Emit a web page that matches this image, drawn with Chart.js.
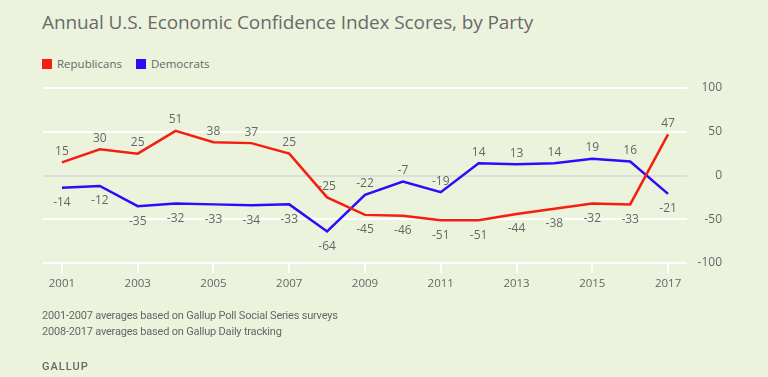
<!DOCTYPE html>
<html>
<head>
<meta charset="utf-8">
<script src="https://cdn.jsdelivr.net/npm/chart.js@4"></script>
<style>
  html, body { margin: 0; padding: 0; background: #ecf3dd; }
  #wrap { position: relative; width: 768px; height: 377px; overflow: hidden; font-family: "Open Sans", sans-serif; color: #666; }
  #chart { position: absolute; left: 0; top: 0; }
  .title { position: absolute; left: 42px; top: 9px; font-size: 19px; color: #6a6a6a; white-space: nowrap; letter-spacing: -0.1px; }
  .legend { position: absolute; left: 42px; top: 56px; font-size: 11.5px; color: #666; white-space: nowrap; }
  .legend span.sw { display: inline-block; width: 10px; height: 10px; vertical-align: -1px; margin-right: 5px; }
  .legend span.item { margin-right: 11px; }
  .note { position: absolute; left: 42px; font-family: Roboto, sans-serif; font-size: 11px; color: #666; white-space: nowrap; letter-spacing: -0.2px; }
  .brand { position: absolute; left: 42px; top: 360px; font-family: Roboto, sans-serif; font-size: 11px; font-weight: 500; letter-spacing: 1px; color: #666; }
</style>
</head>
<body>
<div id="wrap">
  <div class="title">Annual U.S. Economic Confidence Index Scores, by Party</div>
  <div class="legend">
    <span class="item"><span class="sw" style="background:#f51e0f"></span>Republicans</span>
    <span class="item"><span class="sw" style="background:#2c0cfa"></span>Democrats</span>
  </div>
  <canvas id="chart" width="768" height="377"></canvas>
  <div class="note" style="top:309px">2001-2007 averages based on Gallup Poll Social Series surveys</div>
  <div class="note" style="top:325px">2008-2017 averages based on Gallup Daily tracking</div>
  <div class="brand">GALLUP</div>
</div>
<script>
const years = ['2001','2002','2003','2004','2005','2006','2007','2008','2009','2010','2011','2012','2013','2014','2015','2016','2017'];
const republicans = [15, 30, 25, 51, 38, 37, 25, -25, -45, -46, -51, -51, -44, -38, -32, -33, 47];
const democrats = [-14, -12, -35, -32, -33, -34, -33, -64, -22, -7, -19, 14, 13, 14, 19, 16, -21];
// where each value label sits: 'a' above the point, 'b' below
const repLabelPos = ['a','a','a','a','a','a','a','a','b','b','b','b','b','b','b','b','a'];
const demLabelPos = ['b','b','b','b','b','b','b','b','a','a','a','a','a','a','a','a','b'];

const valueLabels = {
  id: 'valueLabels',
  afterDatasetsDraw(chart) {
    const ctx = chart.ctx;
    ctx.save();
    ctx.font = '12px "Open Sans", sans-serif';
    ctx.fillStyle = '#666';
    ctx.textAlign = 'center';
    chart.data.datasets.forEach((ds, i) => {
      const meta = chart.getDatasetMeta(i);
      meta.data.forEach((pt, j) => {
        if (ds.labelPos[j] === 'a') {
          ctx.textBaseline = 'bottom';
          ctx.fillText(ds.data[j], pt.x, pt.y - 5);
        } else {
          ctx.textBaseline = 'top';
          ctx.fillText(ds.data[j], pt.x, pt.y + 9);
        }
      });
    });
    ctx.restore();
  }
};

new Chart(document.getElementById('chart'), {
  type: 'line',
  data: {
    labels: years,
    datasets: [
      { label: 'Republicans', data: republicans, labelPos: repLabelPos, borderColor: '#f51e0f', borderWidth: 2.5, pointRadius: 0, tension: 0 },
      { label: 'Democrats', data: democrats, labelPos: demLabelPos, borderColor: '#2c0cfa', borderWidth: 2.5, pointRadius: 0, tension: 0 }
    ]
  },
  options: {
    responsive: false,
    animation: false,
    layout: { padding: { left: 43, top: 88, right: 46, bottom: 84 } },
    plugins: { legend: { display: false }, tooltip: { enabled: false } },
    scales: {
      x: {
        offset: true,
        border: { display: false },
        grid: {
          drawOnChartArea: false,
          drawTicks: true,
          tickLength: 10,
          lineWidth: 2,
          color: c => (c.index % 2 === 0 ? '#ffffff' : 'rgba(0,0,0,0)')
        },
        ticks: {
          autoSkip: false,
          maxRotation: 0,
          padding: 4,
          color: '#666',
          font: { family: 'Open Sans', size: 11.5 },
          callback: function(v, i) { return i % 2 === 0 ? this.getLabelForValue(v) : ''; }
        },
        afterFit: s => { s.height = 30; }
      },
      y: {
        position: 'right',
        min: -100,
        max: 100,
        border: { display: false },
        grid: {
          drawTicks: false,
          lineWidth: 2,
          color: c => (c.tick && c.tick.value === 0 ? '#dedede' : '#ffffff')
        },
        ticks: {
          stepSize: 50,
          padding: 11,
          crossAlign: 'far',
          color: '#666',
          font: { family: 'Open Sans', size: 12 }
        },
        afterFit: s => { s.width = 35; }
      }
    }
  },
  plugins: [valueLabels]
});
</script>
</body>
</html>
